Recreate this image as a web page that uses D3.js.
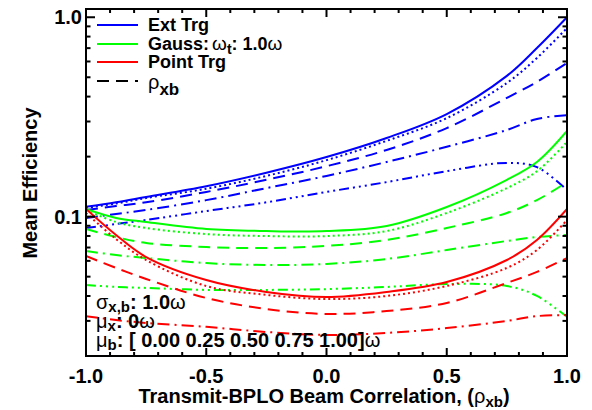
<!DOCTYPE html>
<html><head><meta charset="utf-8">
<script src="https://cdn.jsdelivr.net/npm/d3@7"></script>
<style>
body{margin:0;background:#fff;}
svg text{font-family:"Liberation Sans",Arial,Helvetica,sans-serif;font-weight:bold;fill:#000;}
</style></head>
<body><svg id="c" width="592" height="410"></svg>
<script>
// correlation grid (x)
const rho = [-1, -0.875, -0.75, -0.5, -0.25, 0, 0.25, 0.5, 0.75, 0.875, 1];
// mu_b values, one series per value (solid, dotted, dashed, dash-dot, dash-dot-dot)
const muB = ["0.00", "0.25", "0.50", "0.75", "1.00"];
// Extended target efficiency
const extTrg = [
  [0.112, 0.118, 0.1255, 0.142, 0.166, 0.199, 0.248, 0.327, 0.508, 0.701, 1.0],
  [0.1105, 0.1164, 0.124, 0.138, 0.160, 0.192, 0.240, 0.312, 0.468, 0.625, 0.883],
  [0.108, 0.113, 0.118, 0.133, 0.153, 0.179, 0.216, 0.278, 0.394, 0.474, 0.590],
  [0.0985, 0.1031, 0.108, 0.121, 0.139, 0.160, 0.188, 0.224, 0.272, 0.309, 0.323],
  [0.0877, 0.0918, 0.0962, 0.1067, 0.118, 0.133, 0.149, 0.169, 0.186, 0.177, 0.136]
];
// Gaussian target efficiency
const gaussTrg = [
  [0.1093, 0.0985, 0.094, 0.0867, 0.0847, 0.0847, 0.0898, 0.1118, 0.153, 0.188, 0.269],
  [0.108, 0.094, 0.0877, 0.0818, 0.0799, 0.0799, 0.0847, 0.1043, 0.139, 0.169, 0.237],
  [0.0867, 0.079, 0.0738, 0.0704, 0.0696, 0.0713, 0.0764, 0.0877, 0.1043, 0.121, 0.149],
  [0.0672, 0.0642, 0.062, 0.0585, 0.0572, 0.0579, 0.0613, 0.068, 0.0755, 0.079, 0.0809],
  [0.0454, 0.0444, 0.0439, 0.0429, 0.0429, 0.0433, 0.0444, 0.0459, 0.0449, 0.040, 0.0314]
];
// Point target efficiency (mu_b = 1.00 falls below the plotted range)
const pointTrg = [
  [0.1093, 0.0809, 0.0627, 0.0481, 0.0419, 0.0395, 0.0419, 0.047, 0.0606, 0.0764, 0.1093],
  [0.1043, 0.0772, 0.0606, 0.0449, 0.0405, 0.0386, 0.040, 0.0449, 0.0553, 0.068, 0.0962],
  [0.0635, 0.0553, 0.0487, 0.0391, 0.0344, 0.0325, 0.0336, 0.0369, 0.0465, 0.0528, 0.062],
  [0.0317, 0.0303, 0.0293, 0.028, 0.0264, 0.0255, 0.0261, 0.0276, 0.030, 0.0317, 0.0321]
];
const xTicks = [-1, -0.5, 0, 0.5, 1];
const xTickLabels = ["-1.0", "-0.5", "0.0", "0.5", "1.0"];
const yTicks = [0.1, 1.0];
const yTickLabels = ["0.1", "1.0"];

const L = 86, R = 567, T = 9, B = 356;
const svg = d3.select("#c");
const x = d3.scaleLinear().domain([-1, 1]).range([L, R]);
const y = d3.scaleLog().domain([0.02, 1.1]).range([B, T]);

const dashes = [null, "2,3", "12,7", "12,5,2,5", "10,4,2,4,2,4,2,4"];
const colors = {ext: "#0000ff", gauss: "#00ff00", point: "#ff0000"};

svg.append("clipPath").attr("id", "clip").append("rect")
  .attr("x", L).attr("y", T).attr("width", R - L).attr("height", B - T);

const line = d3.line().x((d, i) => x(rho[i])).y(d => y(d)).curve(d3.curveCatmullRom.alpha(0.5));
const g = svg.append("g").attr("clip-path", "url(#clip)");
function drawSet(set, col) {
  set.forEach((s, k) => {
    g.append("path").attr("d", line(s)).attr("fill", "none")
      .attr("stroke", col).attr("stroke-width", 2)
      .attr("stroke-dasharray", dashes[k]);
  });
}
drawSet(extTrg, colors.ext);
drawSet(gaussTrg, colors.gauss);
drawSet(pointTrg, colors.point);

// axes (ticks inward, mirrored)
const xMinor = d3.range(-10, 11).map(v => v / 10);
const yMinor = [];
[0.01, 0.1].forEach(dec => { for (let m = 2; m <= 9; m++) { const v = m * dec; if (v >= 0.02 && v <= 1.1) yMinor.push(v); } });
const tk = svg.append("g").attr("stroke", "#000").attr("stroke-width", 2);
xMinor.forEach(v => {
  const maj = xTicks.some(t => Math.abs(t - v) < 1e-9);
  const len = maj ? 8 : 4;
  tk.append("line").attr("x1", x(v)).attr("x2", x(v)).attr("y1", B).attr("y2", B - len);
  tk.append("line").attr("x1", x(v)).attr("x2", x(v)).attr("y1", T).attr("y2", T + len);
});
yMinor.concat(yTicks).forEach(v => {
  const maj = yTicks.includes(v);
  const len = maj ? 9 : 4.5;
  tk.append("line").attr("x1", L).attr("x2", L + len).attr("y1", y(v)).attr("y2", y(v));
  tk.append("line").attr("x1", R).attr("x2", R - len).attr("y1", y(v)).attr("y2", y(v));
});
svg.append("rect").attr("x", L).attr("y", T).attr("width", R - L).attr("height", B - T)
  .attr("fill", "none").attr("stroke", "#000").attr("stroke-width", 2);

xTicks.forEach((v, i) => {
  svg.append("text").attr("x", x(v)).attr("y", 383).attr("text-anchor", "middle")
    .attr("font-size", 20).text(xTickLabels[i]);
});
yTicks.forEach((v, i) => {
  svg.append("text").attr("x", 82).attr("y", y(v) + 7).attr("text-anchor", "end")
    .attr("font-size", 20).text(yTickLabels[i]);
});

// axis titles
const xt = svg.append("text").attr("x", 324).attr("y", 403).attr("text-anchor", "middle").attr("font-size", 20);
xt.append("tspan").text("Transmit-BPLO Beam Correlation, (");
xt.append("tspan").attr("font-weight", "normal").text("ρ");
xt.append("tspan").attr("dy", 4).attr("font-size", 15).text("xb");
xt.append("tspan").attr("dy", -4).text(")");
svg.append("text").attr("transform", "translate(37,183) rotate(-90)").attr("text-anchor", "middle")
  .attr("font-size", 20).text("Mean Efficiency");

// legend
const leg = [
  {c: colors.ext, y: 25, d: null},
  {c: colors.gauss, y: 44, d: null},
  {c: colors.point, y: 62, d: null},
  {c: "#000", y: 81, d: "12,7"}
];
leg.forEach(e => {
  svg.append("line").attr("x1", 97).attr("x2", 138).attr("y1", e.y).attr("y2", e.y)
    .attr("stroke", e.c).attr("stroke-width", 2).attr("stroke-dasharray", e.d);
});
svg.append("text").attr("x", 148).attr("y", 31).attr("font-size", 18).text("Ext Trg");
const gl = svg.append("text").attr("x", 148).attr("y", 50).attr("font-size", 18);
gl.append("tspan").text("Gauss:");
gl.append("tspan").attr("dx", 3).attr("font-weight", "normal").attr("font-size", 19).text("ω");
gl.append("tspan").attr("dy", 4).attr("font-size", 14).text("t");
gl.append("tspan").attr("dy", -4).text(": 1.0");
gl.append("tspan").attr("font-weight", "normal").attr("font-size", 19).text("ω");
svg.append("text").attr("x", 148).attr("y", 68).attr("font-size", 18).text("Point Trg");
const rl = svg.append("text").attr("x", 148).attr("y", 89).attr("font-size", 18);
rl.append("tspan").attr("font-weight", "normal").attr("font-size", 20).text("ρ");
rl.append("tspan").attr("dy", 6).attr("font-size", 17).text("xb");

// annotation
const a1 = svg.append("text").attr("x", 96).attr("y", 309).attr("font-size", 20);
a1.append("tspan").attr("font-weight", "normal").text("σ");
a1.append("tspan").attr("dy", 3).attr("font-size", 15).text("x,b");
a1.append("tspan").attr("dy", -3).text(": 1.0");
a1.append("tspan").attr("font-weight", "normal").text("ω");
const a2 = svg.append("text").attr("x", 96).attr("y", 328).attr("font-size", 20);
a2.append("tspan").attr("font-weight", "normal").text("μ");
a2.append("tspan").attr("dy", 3).attr("font-size", 15).text("x");
a2.append("tspan").attr("dy", -3).text(": 0");
a2.append("tspan").attr("font-weight", "normal").text("ω");
const a3 = svg.append("text").attr("x", 96).attr("y", 347).attr("font-size", 20);
a3.append("tspan").attr("font-weight", "normal").text("μ");
a3.append("tspan").attr("dy", 3).attr("font-size", 15).text("b");
a3.append("tspan").attr("dy", -3).text(": [ " + muB.join(" ") + "]");
a3.append("tspan").attr("font-weight", "normal").text("ω");
</script></body></html>
